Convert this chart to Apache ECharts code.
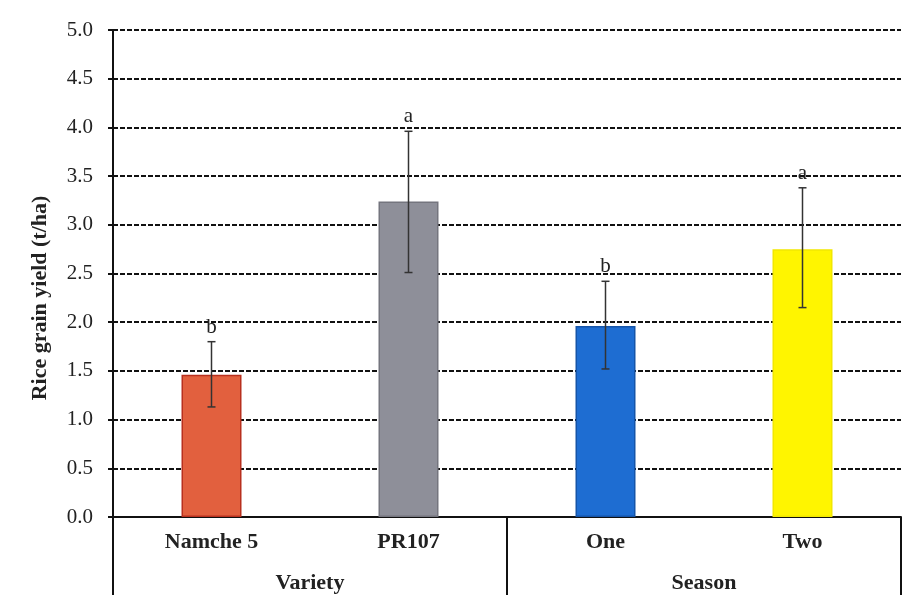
<!DOCTYPE html>
<html>
<head>
<meta charset="utf-8">
<script src="https://cdn.jsdelivr.net/npm/echarts@6/dist/echarts.min.js"></script>
<style>html,body{margin:0;padding:0;background:#fff;}#c{width:912px;height:598px;}</style>
</head>
<body>
<div id="c"></div>
<script>
var categories = ['Namche 5', 'PR107', 'One', 'Two'];
var groups = ['Variety', 'Season'];
var means = [1.46, 3.24, 1.96, 2.75];
var errLow = [1.13, 2.51, 1.52, 2.15];
var errHigh = [1.80, 3.96, 2.42, 3.38];
var letters = ['b', 'a', 'b', 'a'];
var yTicks = [0, 0.5, 1, 1.5, 2, 2.5, 3, 3.5, 4, 4.5, 5];

var fills = ['#E2603E', '#8E8F99', '#1E6DD2', '#FFF500'];
var borders = ['#B8301E', '#74757E', '#1554A8', '#F2E800'];

var chart = echarts.init(document.getElementById('c'));
var font = '"Liberation Serif", "Times New Roman", serif';

var barData = means.map(function (v, i) {
  return { value: v, itemStyle: { color: fills[i], borderColor: borders[i], borderWidth: 1.5 } };
});
var errData = categories.map(function (c, i) { return [i, errLow[i], errHigh[i], letters[i]]; });

chart.setOption({
  animation: false,
  backgroundColor: '#fff',
  grid: { left: 113, right: 11, top: 30, bottom: 81 },
  xAxis: [{
    type: 'category',
    data: categories,
    axisLine: { lineStyle: { color: '#111', width: 2 } },
    axisTick: { show: false },
    axisLabel: { margin: 14, fontFamily: font, fontWeight: 'bold', fontSize: 22, color: '#222' }
  }, {
    type: 'category',
    data: groups,
    position: 'bottom',
    axisLine: { show: false },
    axisTick: { show: true, length: 78, lineStyle: { color: '#111', width: 2 } },
    axisLabel: { margin: 55, fontFamily: font, fontWeight: 'bold', fontSize: 22, color: '#222' }
  }],
  yAxis: {
    type: 'value',
    min: yTicks[0],
    max: yTicks[yTicks.length - 1],
    interval: 0.5,
    axisLine: { show: true, lineStyle: { color: '#111', width: 2 } },
    axisTick: { show: true, length: 5, lineStyle: { color: '#111', width: 2 } },
    axisLabel: { margin: 20, fontFamily: font, fontSize: 21, color: '#222',
      formatter: function (v) { return v.toFixed(1); } },
    splitLine: { show: true, lineStyle: { color: '#111', width: 2, type: [5, 2] } }
  },
  graphic: [{
    type: 'text',
    x: 40, y: 298,
    rotation: Math.PI / 2,
    style: {
      text: 'Rice grain yield (t/ha)',
      font: 'bold 22px ' + font,
      fill: '#222',
      textAlign: 'center',
      textVerticalAlign: 'middle'
    }
  }],
  series: [{
    type: 'bar',
    data: barData,
    barWidth: 60,
    z: 3
  }, {
    type: 'custom',
    data: errData,
    z: 5,
    renderItem: function (params, api) {
      var x = api.value(0);
      var lo = api.coord([x, api.value(1)]);
      var hi = api.coord([x, api.value(2)]);
      var cap = 4;
      var st = { stroke: '#333', lineWidth: 1.5 };
      return {
        type: 'group',
        children: [
          { type: 'line', shape: { x1: hi[0], y1: hi[1], x2: lo[0], y2: lo[1] }, style: st },
          { type: 'line', shape: { x1: hi[0] - cap, y1: hi[1], x2: hi[0] + cap, y2: hi[1] }, style: st },
          { type: 'line', shape: { x1: lo[0] - cap, y1: lo[1], x2: lo[0] + cap, y2: lo[1] }, style: st },
          { type: 'text', x: hi[0], y: hi[1] - 4,
            style: { text: letters[params.dataIndex], font: '21px ' + font, fill: '#222',
              textAlign: 'center', textVerticalAlign: 'bottom' } }
        ]
      };
    }
  }]
});
</script>
</body>
</html>
